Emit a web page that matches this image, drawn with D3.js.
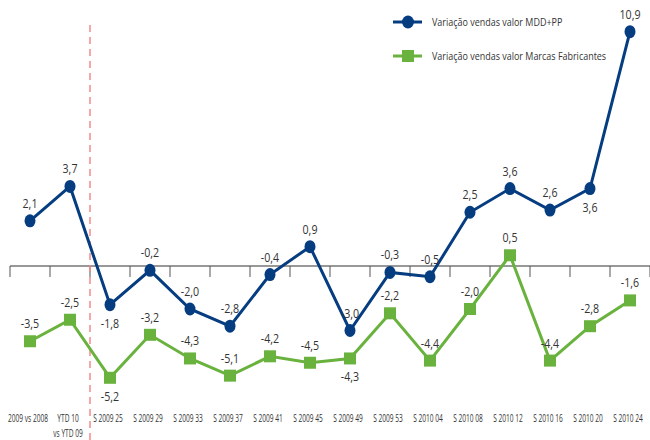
<!DOCTYPE html>
<html>
<head>
<meta charset="utf-8">
<script src="https://cdn.jsdelivr.net/npm/d3@7"></script>
<style>
  body { margin: 0; background: #fff; }
  text { font-family: "Open Sans", sans-serif; fill: #333; }
</style>
</head>
<body>
<svg width="650" height="440"></svg>
<script>
const categories = ["2009 vs 2008", "YTD 10|vs YTD 09", "S 2009 25", "S 2009 29", "S 2009 33", "S 2009 37",
    "S 2009 41", "S 2009 45", "S 2009 49", "S 2009 53", "S 2010 04", "S 2010 08", "S 2010 12",
    "S 2010 16", "S 2010 20", "S 2010 24"];
const mddValues = [2.1, 3.7, -1.8, -0.2, -2.0, -2.8, -0.4, 0.9, -3.0, -0.3, -0.5, 2.5, 3.6, 2.6, 3.6, 10.9];
const marcasValues = [-3.5, -2.5, -5.2, -3.2, -4.3, -5.1, -4.2, -4.5, -4.3, -2.2, -4.4, -2.0, 0.5, -4.4, -2.8, -1.6];
const seriesNames = ["Variação vendas valor MDD+PP", "Variação vendas valor Marcas Fabricantes"];
// labels drawn below the point instead of above
const mddBelow = [2, 14];
const marcasBelow = [2, 8];

const svg = d3.select("svg");
const blue = "#053d80";
const green = "#6ab23e";

const x = d3.scaleBand().domain(categories).range([10, 650]);
const y = d3.scaleLinear().domain([-6, 11]).range([395, 29.5]);
const cx = (d, i) => x(categories[i]) + x.bandwidth() / 2;

// text squeezed horizontally to imitate a condensed face
function narrowText(parent, tx, ty, str, size, f, anchor) {
    return parent.append("g")
        .attr("transform", `translate(${tx},${ty}) scale(${f},1)`)
        .append("text")
        .attr("text-anchor", anchor || "middle")
        .attr("font-size", size)
        .text(str);
}

// zero axis with ticks
const axis = svg.append("g").attr("transform", `translate(0,${y(0)})`);
axis.append("line").attr("x1", 10).attr("x2", 650).attr("stroke", "#333").attr("stroke-width", 1.2);
axis.selectAll(".tk").data(d3.range(categories.length + 1)).join("line")
    .attr("x1", i => 10 + i * x.bandwidth()).attr("x2", i => 10 + i * x.bandwidth())
    .attr("y1", 0).attr("y2", 11)
    .attr("stroke", "#555").attr("stroke-width", 1);

// category labels
categories.forEach((c, i) => {
    c.split("|").forEach((p, j) => {
        narrowText(svg, cx(null, i) - 2, 422 + j * 15, p, 10, 0.66);
    });
});

// dashed separator
svg.append("line")
    .attr("x1", x(categories[2])).attr("x2", x(categories[2]))
    .attr("y1", 25).attr("y2", 440)
    .attr("stroke", "#f58a8a").attr("stroke-width", 1.5)
    .attr("stroke-dasharray", "7,5");

const line = d3.line().x(cx).y(d => y(d));

// green series
svg.append("path").attr("d", line(marcasValues))
    .attr("fill", "none").attr("stroke", green).attr("stroke-width", 3);
svg.selectAll(".sq").data(marcasValues).join("rect")
    .attr("x", (d, i) => cx(d, i) - 6).attr("y", d => y(d) - 6)
    .attr("width", 12).attr("height", 12).attr("fill", green);

// blue series
svg.append("path").attr("d", line(mddValues))
    .attr("fill", "none").attr("stroke", blue).attr("stroke-width", 3);
svg.selectAll(".dot").data(mddValues).join("ellipse")
    .attr("cx", cx).attr("cy", d => y(d))
    .attr("rx", 5.5).attr("ry", 6.5).attr("fill", blue);

const fmt = v => v.toFixed(1).replace(".", ",");

function labels(values, below) {
    const g = svg.append("g");
    values.forEach((d, i) => {
        const ly = below.includes(i) ? y(d) + 23 : y(d) - 13;
        narrowText(g, cx(d, i), ly, fmt(d), 13, 0.82);
    });
}
labels(mddValues, mddBelow);
labels(marcasValues, marcasBelow);

// legend
const legend = [
    {name: seriesNames[0], color: blue, y: 22, shape: "circle"},
    {name: seriesNames[1], color: green, y: 56, shape: "square"}
];
legend.forEach(l => {
    svg.append("line").attr("x1", 393).attr("x2", 422).attr("y1", l.y).attr("y2", l.y)
        .attr("stroke", l.color).attr("stroke-width", 3);
    if (l.shape === "circle") {
        svg.append("ellipse").attr("cx", 408).attr("cy", l.y).attr("rx", 6).attr("ry", 6.5).attr("fill", l.color);
    } else {
        svg.append("rect").attr("x", 402).attr("y", l.y - 6).attr("width", 12).attr("height", 12).attr("fill", l.color);
    }
    narrowText(svg, 432, l.y + 4, l.name, 11.5, 0.78, "start");
});
</script>
</body>
</html>
